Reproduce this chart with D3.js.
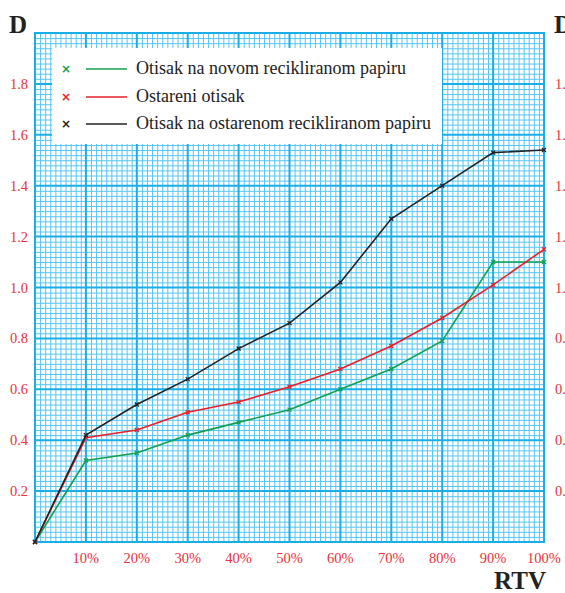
<!DOCTYPE html>
<html><head><meta charset="utf-8">
<script src="https://cdn.jsdelivr.net/npm/d3@7"></script>
<style>html,body{margin:0;padding:0;background:#fff;overflow:hidden}</style>
</head><body>
<svg id="c" width="565" height="593"></svg>
<script>
const rtv = [0,10,20,30,40,50,60,70,80,90,100];
const greenVals = [0,0.32,0.35,0.42,0.47,0.52,0.60,0.68,0.79,1.10,1.10];
const redVals = [0,0.41,0.44,0.51,0.55,0.61,0.68,0.77,0.88,1.01,1.15];
const blackVals = [0,0.42,0.54,0.64,0.76,0.86,1.02,1.27,1.40,1.53,1.54];
const seriesNames = ["Otisak na novom recikliranom papiru","Ostareni otisak","Otisak na ostarenom recikliranom papiru"];
const seriesColors = ["#12a050","#e8202a","#222222"];
const xTickVals = [10,20,30,40,50,60,70,80,90,100];
const yTickVals = [0.2,0.4,0.6,0.8,1.0,1.2,1.4,1.6,1.8];

const svg = d3.select("#c");
const x = d3.scaleLinear().domain([0,100]).range([35,544]);
const y = d3.scaleLinear().domain([0,2]).range([542,33]);
const serif = "Liberation Serif, Times New Roman, serif";

const g = svg.append("g");
// minor grid
g.selectAll(".vm").data(d3.range(0,101,1).filter(d=>d%10!==0)).join("line")
 .attr("x1",d=>x(d)+0.5).attr("x2",d=>x(d)+0.5).attr("y1",y(2)).attr("y2",y(0))
 .attr("stroke","#55c6f2").attr("stroke-width",1);
g.selectAll(".hm").data(d3.range(0,101,1).filter(d=>d%10!==0)).join("line")
 .attr("y1",d=>y(d/50)+0.5).attr("y2",d=>y(d/50)+0.5).attr("x1",x(0)).attr("x2",x(100))
 .attr("stroke","#55c6f2").attr("stroke-width",1);
// major grid
g.selectAll(".vM").data(d3.range(0,101,10)).join("line")
 .attr("x1",d=>x(d)).attr("x2",d=>x(d)).attr("y1",y(2)-1).attr("y2",y(0)+1)
 .attr("stroke","#1aaee8").attr("stroke-width",2);
g.selectAll(".hM").data(d3.range(0,11,1)).join("line")
 .attr("y1",d=>y(d*0.2)).attr("y2",d=>y(d*0.2)).attr("x1",x(0)-1).attr("x2",x(100)+1)
 .attr("stroke","#1aaee8").attr("stroke-width",2);

// legend box
const lg = svg.append("g");
lg.append("rect").attr("x",52).attr("y",48).attr("width",390).attr("height",96).attr("fill","#fff");
const rowsY = [69,97,124];
seriesNames.forEach((n,i)=>{
  const cy = rowsY[i];
  lg.append("text").attr("x",66).attr("y",cy).attr("text-anchor","middle").attr("dominant-baseline","central")
    .attr("font-family","DejaVu Sans, sans-serif").attr("font-weight","bold").attr("font-size",12)
    .attr("fill",seriesColors[i]).text("×");
  lg.append("line").attr("x1",86).attr("x2",127).attr("y1",cy).attr("y2",cy)
    .attr("stroke",seriesColors[i]).attr("stroke-width",1.5);
  lg.append("text").attr("x",136).attr("y",cy+5).attr("font-family",serif).attr("font-size",18)
    .attr("fill","#222").text(n);
});

// series
const line = d3.line().x((d,i)=>x(rtv[i])).y(d=>y(d));
[greenVals,redVals,blackVals].forEach((vals,i)=>{
  svg.append("path").attr("d",line(vals)).attr("fill","none").attr("stroke",seriesColors[i]).attr("stroke-width",1.6);
  svg.selectAll(null).data(vals).join("path")
    .attr("d",(d,j)=>{const px=x(rtv[j]),py=y(d);return `M${px-2},${py-2}L${px+2},${py+2}M${px-2},${py+2}L${px+2},${py-2}`;})
    .attr("stroke",seriesColors[i]).attr("stroke-width",1.3);
});

// axis labels
const tickColor = "#e8323c";
svg.selectAll(".yl").data(yTickVals).join("text")
  .attr("x",28).attr("y",d=>y(d)+5).attr("text-anchor","end")
  .attr("font-family",serif).attr("font-size",14.5).attr("fill",tickColor).text(d=>d.toFixed(1));
svg.selectAll(".yr").data(yTickVals).join("text")
  .attr("x",555).attr("y",d=>y(d)+5).attr("text-anchor","start")
  .attr("font-family",serif).attr("font-size",14.5).attr("fill",tickColor).text(d=>d.toFixed(1));
svg.selectAll(".xl").data(xTickVals).join("text")
  .attr("x",d=>x(d)).attr("y",563).attr("text-anchor","middle")
  .attr("font-family",serif).attr("font-size",14.5).attr("fill",tickColor).text(d=>d+"%");

svg.append("text").attr("x",9).attr("y",33).attr("font-family",serif).attr("font-weight","bold")
  .attr("font-size",25).attr("fill","#222").text("D");
svg.append("text").attr("x",554).attr("y",33).attr("font-family",serif).attr("font-weight","bold")
  .attr("font-size",25).attr("fill","#222").text("D");
svg.append("text").attr("x",546).attr("y",589).attr("text-anchor","end").attr("font-family",serif).attr("font-weight","bold")
  .attr("font-size",25).attr("fill","#222").text("RTV");
</script>
</body></html>
